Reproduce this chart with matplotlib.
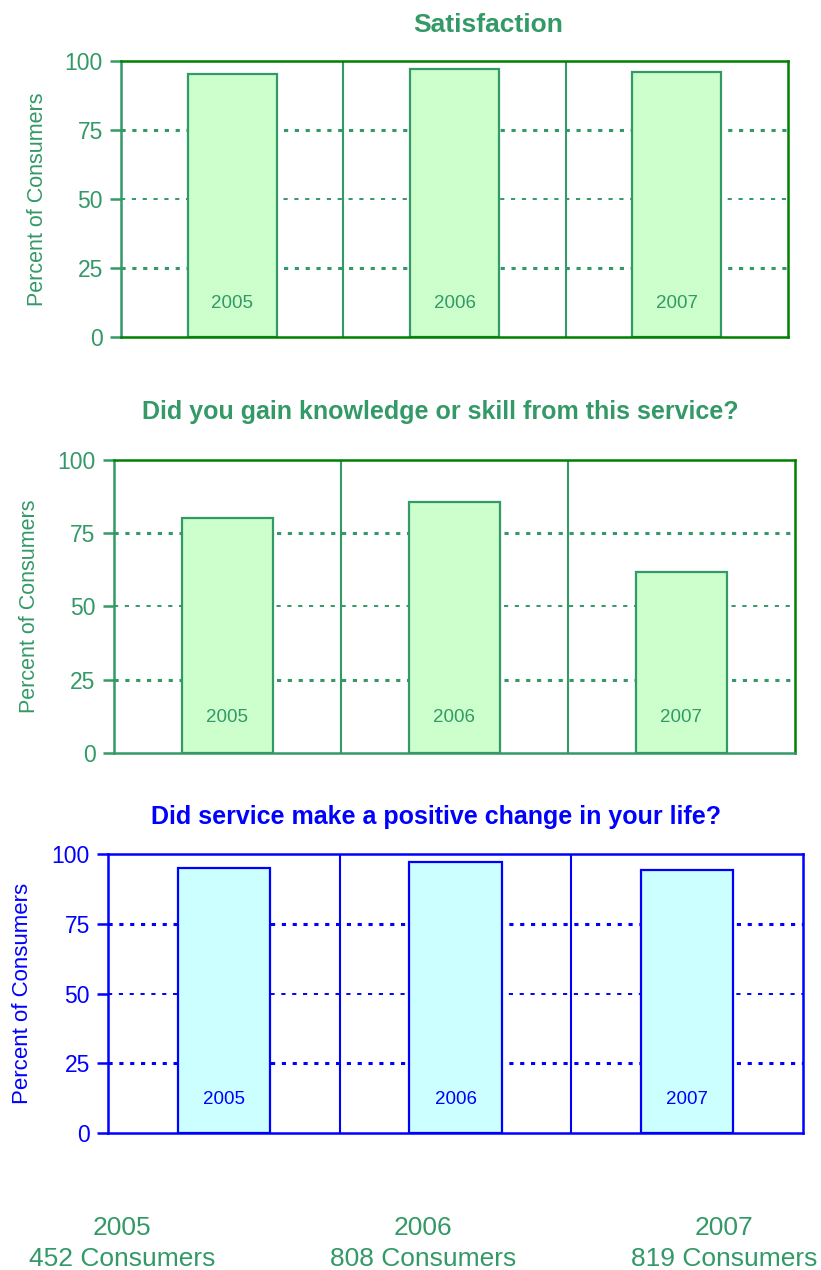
import matplotlib.pyplot as plt

plt.rcParams['font.family'] = ['Liberation Sans', 'DejaVu Sans']
plt.rcParams['lines.scale_dashes'] = False

years = ["2005", "2006", "2007"]
consumers = [452, 808, 819]
satisfaction = [95.2, 97.2, 95.9]
knowledge = [80.2, 85.8, 61.8]
positive_change = [95.0, 97.3, 94.3]
titles = ["Satisfaction",
          "Did you gain knowledge or skill from this service?",
          "Did service make a positive change in your life?"]
yticks = [0, 25, 50, 75, 100]

GREEN = "#339966"
DARK_GREEN = "#008000"
BLUE = "#0000FF"

W, H = 821, 1270
fig = plt.figure(figsize=(W / 100, H / 100), dpi=100)


def px_rect(left, top, right, bottom):
    return [left / W, 1 - bottom / H, (right - left) / W, (bottom - top) / H]


panels = [
    dict(values=satisfaction, title=titles[0], rect=px_rect(121, 61, 788, 337),
         color=GREEN, frame=DARK_GREEN, bottom=DARK_GREEN, fill="#CCFFCC",
         title_xy=(488, 25), title_size=19, ylab_x=48, ylab_size=15.5),
    dict(values=knowledge, title=titles[1], rect=px_rect(113.5, 460, 795, 752.7),
         color=GREEN, frame=DARK_GREEN, bottom=GREEN, fill="#CCFFCC",
         title_xy=(440, 412), title_size=18, ylab_x=40, ylab_size=15.5),
    dict(values=positive_change, title=titles[2], rect=px_rect(108, 854, 803, 1133.3),
         color=BLUE, frame=BLUE, bottom=BLUE, fill="#CCFFFF",
         title_xy=(436, 817), title_size=18, ylab_x=33, ylab_size=16),
]

xs = [0.5, 1.5, 2.5]
for p in panels:
    ax = fig.add_axes(p["rect"])
    c = p["color"]
    ax.set_xlim(0, 3)
    ax.set_ylim(0, 100)

    # dotted grid, the 25/75 lines are drawn heavier in the original
    for y in [25, 50, 75, 100]:
        lw = 2.2 if y in (25, 75) else 1.4
        ax.axhline(y, color=c, lw=lw, dashes=(3, 4.8), zorder=1)
    for sep in [1, 2]:
        ax.axvline(sep, color=c, lw=1.5, zorder=2)

    ax.bar(xs, p["values"], width=0.4, color=p["fill"], edgecolor=c, linewidth=1.6, zorder=3)
    for x, yr in zip(xs, years):
        ax.text(x, 12, yr, ha="center", va="center", color=c, fontsize=13.5, zorder=4)

    ax.spines["left"].set_color(c)
    ax.spines["bottom"].set_color(p["bottom"])
    ax.spines["top"].set_color(p["frame"])
    ax.spines["right"].set_color(p["frame"])
    for s in ax.spines.values():
        s.set_linewidth(1.8)
        s.set_zorder(5)

    ax.set_xticks([])
    ax.set_yticks(yticks)
    ax.tick_params(axis="y", direction="out", length=8, width=1.8, colors=c,
                   labelsize=16.5, pad=5)
    ax.set_ylabel("Percent of Consumers", color=c, fontsize=p["ylab_size"])
    ax.yaxis.set_label_coords((p["ylab_x"] / W - p["rect"][0]) / p["rect"][2], 0.5)

    fig.text(p["title_xy"][0] / W, 1 - p["title_xy"][1] / H, p["title"], ha="center",
             va="center", color=c, fontsize=p["title_size"], fontweight="bold")

for x, yr, n in zip([122, 423, 724], years, consumers):
    fig.text(x / W, 1 - 1228 / H, yr, ha="center", va="center", color=GREEN, fontsize=19)
    fig.text(x / W, 1 - 1259 / H, f"{n} Consumers", ha="center", va="center",
             color=GREEN, fontsize=19)

fig.savefig("out.png", dpi=100)
